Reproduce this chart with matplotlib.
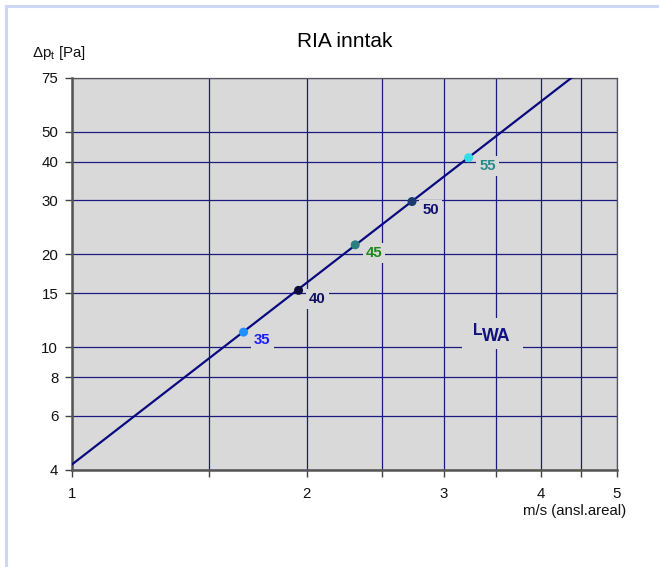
import numpy as np
import matplotlib
matplotlib.use('Agg')
import matplotlib.pyplot as plt
from matplotlib.lines import Line2D
from matplotlib.patches import Rectangle
from matplotlib.transforms import ScaledTranslation
from matplotlib.ticker import FixedLocator, NullLocator, FixedFormatter

plt.rcParams['font.family'] = ['Liberation Sans', 'DejaVu Sans']
plt.rcParams['mathtext.fontset'] = 'custom'
plt.rcParams['mathtext.rm'] = 'Liberation Sans'
plt.rcParams['mathtext.bf'] = 'Liberation Sans:bold'

# data
line_x = [1.0, 4.38]
line_y = [4.17, 75.0]

pt_labels = ['35', '40', '45', '50', '55']
pt_x = [1.66, 1.953, 2.309, 2.731, 3.228]
pt_y = [11.2, 15.3, 21.5, 29.7, 41.2]
pt_colors = ['#1e90ff', '#0c0c3c', '#2a8080', '#1a3a70', '#33dde6']
lbl_colors = ['#1a1aff', '#101060', '#1a8a1a', '#101070', '#2a8a8a']

lwa_pos = (3.46, 11.1)

x_ticks = [1, 1.5, 2, 2.5, 3, 3.5, 4, 4.5, 5]
x_ticklabels = ['1', '', '2', '', '3', '', '4', '', '5']
y_ticks = [4, 6, 8, 10, 15, 20, 30, 40, 50, 75]

grid_col = '#1a1a80'
face = '#d9d9d9'
fs = 10.8

fig = plt.figure(figsize=(6.59, 5.67), dpi=100)
ax = fig.add_axes([0.1093, 0.1711, 0.8265, 0.6922])
ax.set_facecolor(face)
ax.set_xscale('log')
ax.set_yscale('log')
ax.set_xlim(1, 5)
ax.set_ylim(4, 75)

ax.xaxis.set_major_locator(FixedLocator(x_ticks))
ax.xaxis.set_major_formatter(FixedFormatter(x_ticklabels))
ax.xaxis.set_minor_locator(NullLocator())
ax.yaxis.set_major_locator(FixedLocator(y_ticks))
ax.yaxis.set_major_formatter(FixedFormatter([str(v) for v in y_ticks]))
ax.yaxis.set_minor_locator(NullLocator())

ax.set_axisbelow(True)
ax.grid(True, color=grid_col, linewidth=0.9)
ax.tick_params(direction='out', length=5, width=1, color='#444444',
               labelsize=fs, labelcolor='#111111')
ax.tick_params(axis='x', pad=7)
ax.tick_params(axis='y', pad=5)

for s in ['left', 'bottom']:
    ax.spines[s].set_linewidth(1.8)
    ax.spines[s].set_color('#555555')
for s in ['top', 'right']:
    ax.spines[s].set_linewidth(0.9)
    ax.spines[s].set_color('#555555')

ax.plot(line_x, line_y, color='#0a0a80', linewidth=1.6, zorder=4)
ax.scatter(pt_x, pt_y, s=42, c=pt_colors, zorder=5, edgecolors='none')

for lab, x, y, c in zip(pt_labels, pt_x, pt_y, lbl_colors):
    ax.annotate(lab, (x, y), xytext=(13.5, -6), textcoords='offset points',
                ha='center', va='center', fontsize=fs, fontweight='bold',
                color=c, zorder=3,
                bbox=dict(boxstyle='square,pad=0.2', fc=face, ec='none'))

# L_WA label: background patch (in inches around the anchor), "L" and lowered "WA"
box_tr = fig.dpi_scale_trans + ScaledTranslation(*lwa_pos, ax.transData)
ax.add_patch(Rectangle((-0.30, -0.16), 0.61, 0.31, transform=box_tr,
                       fc=face, ec='none', zorder=3))
ax.annotate('L', lwa_pos, xytext=(-13.7, 1.8), textcoords='offset points',
            ha='left', va='center', fontsize=fs + 0.5, fontweight='bold',
            color='#101080', zorder=3.5)
ax.annotate('WA', lwa_pos, xytext=(-7.0, -2.2), textcoords='offset points',
            ha='left', va='center', fontsize=fs + 2.0, fontweight='bold',
            color='#101080', zorder=3.5)

ax.set_title('RIA inntak', fontsize=15, pad=22)
fig.text(0.049, 0.907, r'$\Delta$p$_\mathregular{t}$ [Pa]', fontsize=fs,
         ha='left', va='center', color='#111111')
fig.text(0.950, 0.099, 'm/s (ansl.areal)', fontsize=fs, ha='right',
         va='center', color='#111111')

# light frame around the picture
bc = '#cdd6f2'
fig.add_artist(Line2D([6 / 659, 1], [1 - 6 / 567] * 2, color=bc, lw=2.2,
                      transform=fig.transFigure))
fig.add_artist(Line2D([6 / 659] * 2, [2 / 567, 1 - 6 / 567], color=bc, lw=2.2,
                      transform=fig.transFigure))

fig.savefig('out.png', dpi=100, facecolor='white')
